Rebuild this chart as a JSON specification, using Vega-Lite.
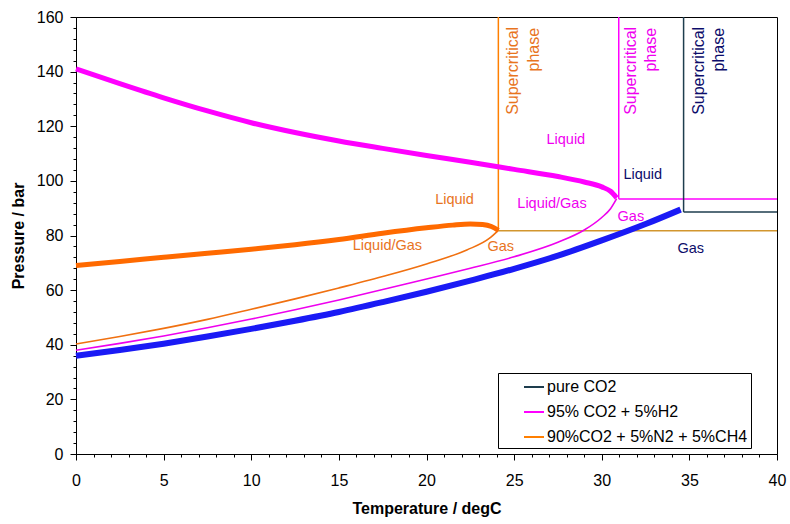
{
  "$schema": "https://vega.github.io/schema/vega-lite/v6.json",
  "width": 701,
  "height": 437,
  "autosize": {"type": "none"},
  "padding": {"left": 76, "top": 17, "right": 13, "bottom": 70},
  "background": "white",
  "config": {
    "font": "Liberation Sans",
    "view": {"stroke": "#000000", "strokeWidth": 1},
    "axis": {
      "grid": false,
      "domainColor": "#000000",
      "tickColor": "#000000",
      "labelColor": "#000000",
      "labelFontSize": 16,
      "labelFont": "Liberation Sans",
      "titleFont": "Liberation Sans",
      "titleFontSize": 16,
      "titleFontWeight": "bold",
      "titleColor": "#000000",
      "labelOverlap": false,
      "labelFlush": false
    }
  },
  "datasets": {
    "curves": [
      {"series": "pure CO2", "branch": "lower", "T": 0, "P": 36.0},
      {"series": "pure CO2", "branch": "lower", "T": 2.5, "P": 38.1},
      {"series": "pure CO2", "branch": "lower", "T": 5, "P": 40.4},
      {"series": "pure CO2", "branch": "lower", "T": 7.5, "P": 43.0},
      {"series": "pure CO2", "branch": "lower", "T": 10, "P": 45.8},
      {"series": "pure CO2", "branch": "lower", "T": 12.5, "P": 48.8},
      {"series": "pure CO2", "branch": "lower", "T": 15, "P": 52.0},
      {"series": "pure CO2", "branch": "lower", "T": 17.5, "P": 55.6},
      {"series": "pure CO2", "branch": "lower", "T": 20, "P": 59.4},
      {"series": "pure CO2", "branch": "lower", "T": 22.5, "P": 63.5},
      {"series": "pure CO2", "branch": "lower", "T": 25, "P": 67.8},
      {"series": "pure CO2", "branch": "lower", "T": 27.5, "P": 72.6},
      {"series": "pure CO2", "branch": "lower", "T": 30, "P": 78.2},
      {"series": "pure CO2", "branch": "lower", "T": 32.5, "P": 84.2},
      {"series": "pure CO2", "branch": "lower", "T": 34.5, "P": 89.5},

      {"series": "95% CO2 + 5%H2", "branch": "lower", "T": 0, "P": 38.0},
      {"series": "95% CO2 + 5%H2", "branch": "lower", "T": 2.5, "P": 40.5},
      {"series": "95% CO2 + 5%H2", "branch": "lower", "T": 5, "P": 43.2},
      {"series": "95% CO2 + 5%H2", "branch": "lower", "T": 7.5, "P": 46.2},
      {"series": "95% CO2 + 5%H2", "branch": "lower", "T": 10, "P": 49.4},
      {"series": "95% CO2 + 5%H2", "branch": "lower", "T": 12.5, "P": 52.8},
      {"series": "95% CO2 + 5%H2", "branch": "lower", "T": 15, "P": 56.4},
      {"series": "95% CO2 + 5%H2", "branch": "lower", "T": 17.5, "P": 60.2},
      {"series": "95% CO2 + 5%H2", "branch": "lower", "T": 20, "P": 64.1},
      {"series": "95% CO2 + 5%H2", "branch": "lower", "T": 22.5, "P": 68.0},
      {"series": "95% CO2 + 5%H2", "branch": "lower", "T": 25, "P": 72.2},
      {"series": "95% CO2 + 5%H2", "branch": "lower", "T": 27.5, "P": 77.5},
      {"series": "95% CO2 + 5%H2", "branch": "lower", "T": 29, "P": 82.0},
      {"series": "95% CO2 + 5%H2", "branch": "lower", "T": 30, "P": 86.6},
      {"series": "95% CO2 + 5%H2", "branch": "lower", "T": 30.5, "P": 89.8},
      {"series": "95% CO2 + 5%H2", "branch": "lower", "T": 30.85, "P": 93.5},

      {"series": "95% CO2 + 5%H2", "branch": "upper", "T": 0, "P": 141.0},
      {"series": "95% CO2 + 5%H2", "branch": "upper", "T": 2.5, "P": 135.6},
      {"series": "95% CO2 + 5%H2", "branch": "upper", "T": 5, "P": 130.4},
      {"series": "95% CO2 + 5%H2", "branch": "upper", "T": 7.5, "P": 125.6},
      {"series": "95% CO2 + 5%H2", "branch": "upper", "T": 10, "P": 121.3},
      {"series": "95% CO2 + 5%H2", "branch": "upper", "T": 12.5, "P": 117.7},
      {"series": "95% CO2 + 5%H2", "branch": "upper", "T": 15, "P": 114.6},
      {"series": "95% CO2 + 5%H2", "branch": "upper", "T": 17.5, "P": 111.9},
      {"series": "95% CO2 + 5%H2", "branch": "upper", "T": 20, "P": 109.3},
      {"series": "95% CO2 + 5%H2", "branch": "upper", "T": 22.5, "P": 106.8},
      {"series": "95% CO2 + 5%H2", "branch": "upper", "T": 25, "P": 104.2},
      {"series": "95% CO2 + 5%H2", "branch": "upper", "T": 27.5, "P": 101.6},
      {"series": "95% CO2 + 5%H2", "branch": "upper", "T": 29, "P": 99.6},
      {"series": "95% CO2 + 5%H2", "branch": "upper", "T": 30, "P": 97.8},
      {"series": "95% CO2 + 5%H2", "branch": "upper", "T": 30.5, "P": 96.2},
      {"series": "95% CO2 + 5%H2", "branch": "upper", "T": 30.85, "P": 93.8},

      {"series": "90%CO2 + 5%N2 + 5%CH4", "branch": "lower", "T": 0, "P": 40.3},
      {"series": "90%CO2 + 5%N2 + 5%CH4", "branch": "lower", "T": 2.5, "P": 43.0},
      {"series": "90%CO2 + 5%N2 + 5%CH4", "branch": "lower", "T": 5, "P": 46.0},
      {"series": "90%CO2 + 5%N2 + 5%CH4", "branch": "lower", "T": 7.5, "P": 49.3},
      {"series": "90%CO2 + 5%N2 + 5%CH4", "branch": "lower", "T": 10, "P": 53.0},
      {"series": "90%CO2 + 5%N2 + 5%CH4", "branch": "lower", "T": 12.5, "P": 56.8},
      {"series": "90%CO2 + 5%N2 + 5%CH4", "branch": "lower", "T": 15, "P": 60.8},
      {"series": "90%CO2 + 5%N2 + 5%CH4", "branch": "lower", "T": 17.5, "P": 65.0},
      {"series": "90%CO2 + 5%N2 + 5%CH4", "branch": "lower", "T": 20, "P": 69.6},
      {"series": "90%CO2 + 5%N2 + 5%CH4", "branch": "lower", "T": 22.3, "P": 74.7},
      {"series": "90%CO2 + 5%N2 + 5%CH4", "branch": "lower", "T": 23.6, "P": 79.0},
      {"series": "90%CO2 + 5%N2 + 5%CH4", "branch": "lower", "T": 24.1, "P": 81.9},

      {"series": "90%CO2 + 5%N2 + 5%CH4", "branch": "upper", "T": 0, "P": 69.0},
      {"series": "90%CO2 + 5%N2 + 5%CH4", "branch": "upper", "T": 2.5, "P": 70.5},
      {"series": "90%CO2 + 5%N2 + 5%CH4", "branch": "upper", "T": 5, "P": 72.0},
      {"series": "90%CO2 + 5%N2 + 5%CH4", "branch": "upper", "T": 7.5, "P": 73.5},
      {"series": "90%CO2 + 5%N2 + 5%CH4", "branch": "upper", "T": 10, "P": 75.0},
      {"series": "90%CO2 + 5%N2 + 5%CH4", "branch": "upper", "T": 12.5, "P": 76.6},
      {"series": "90%CO2 + 5%N2 + 5%CH4", "branch": "upper", "T": 15, "P": 78.5},
      {"series": "90%CO2 + 5%N2 + 5%CH4", "branch": "upper", "T": 17.5, "P": 80.8},
      {"series": "90%CO2 + 5%N2 + 5%CH4", "branch": "upper", "T": 20, "P": 82.8},
      {"series": "90%CO2 + 5%N2 + 5%CH4", "branch": "upper", "T": 21.5, "P": 83.8},
      {"series": "90%CO2 + 5%N2 + 5%CH4", "branch": "upper", "T": 22.5, "P": 84.2},
      {"series": "90%CO2 + 5%N2 + 5%CH4", "branch": "upper", "T": 23.2, "P": 84.0},
      {"series": "90%CO2 + 5%N2 + 5%CH4", "branch": "upper", "T": 23.7, "P": 83.3},
      {"series": "90%CO2 + 5%N2 + 5%CH4", "branch": "upper", "T": 24.1, "P": 81.9}
    ],
    "bounds": [
      {"series": "90%CO2 + 5%N2 + 5%CH4", "kind": "v", "T": 24.1, "T2": 24.1, "P": 81.7, "P2": 160},
      {"series": "90%CO2 + 5%N2 + 5%CH4", "kind": "h", "T": 24.1, "T2": 40, "P": 81.7, "P2": 81.7},
      {"series": "95% CO2 + 5%H2", "kind": "v", "T": 30.97, "T2": 30.97, "P": 93.4, "P2": 160},
      {"series": "95% CO2 + 5%H2", "kind": "h", "T": 30.97, "T2": 40, "P": 93.4, "P2": 93.4},
      {"series": "pure CO2", "kind": "v", "T": 34.67, "T2": 34.67, "P": 88.6, "P2": 160},
      {"series": "pure CO2", "kind": "h", "T": 34.67, "T2": 40, "P": 88.6, "P2": 88.6}
    ],
    "labels": [
      {"label": "Liquid", "series": "90%CO2 + 5%N2 + 5%CH4", "T": 21.6, "P": 93.0},
      {"label": "Liquid/Gas", "series": "90%CO2 + 5%N2 + 5%CH4", "T": 17.77, "P": 76.2},
      {"label": "Gas", "series": "90%CO2 + 5%N2 + 5%CH4", "T": 24.24, "P": 75.8},
      {"label": "Liquid", "series": "95% CO2 + 5%H2", "T": 27.95, "P": 115.0},
      {"label": "Liquid/Gas", "series": "95% CO2 + 5%H2", "T": 27.16, "P": 91.4},
      {"label": "Gas", "series": "95% CO2 + 5%H2", "T": 31.66, "P": 86.8},
      {"label": "Liquid", "series": "pure CO2", "T": 32.34, "P": 102.2},
      {"label": "Gas", "series": "pure CO2", "T": 35.08, "P": 75.2}
    ],
    "vlabels": [
      {"label": "Supercritical", "series": "90%CO2 + 5%N2 + 5%CH4", "T": 24.94, "P": 156.4},
      {"label": "phase", "series": "90%CO2 + 5%N2 + 5%CH4", "T": 26.13, "P": 156.0},
      {"label": "Supercritical", "series": "95% CO2 + 5%H2", "T": 31.67, "P": 156.4},
      {"label": "phase", "series": "95% CO2 + 5%H2", "T": 32.81, "P": 156.0},
      {"label": "Supercritical", "series": "pure CO2", "T": 35.55, "P": 156.4},
      {"label": "phase", "series": "pure CO2", "T": 36.69, "P": 156.0}
    ]
  },
  "encoding": {
    "x": {
      "field": "T", "type": "quantitative",
      "scale": {"domain": [0, 40], "nice": false, "zero": false},
      "axis": {
        "title": "Temperature / degC",
        "values": [0,1,2,3,4,5,6,7,8,9,10,11,12,13,14,15,16,17,18,19,20,21,22,23,24,25,26,27,28,29,30,31,32,33,34,35,36,37,38,39,40],
        "labelExpr": "datum.value % 5 === 0 ? datum.label : ''",
        "labelOverlap": false,
        "labelBound": false,
        "tickSize": {"condition": {"test": "datum.value % 5 === 0", "value": 6}, "value": 3},
        "labelPadding": 12,
        "titlePadding": 12
      }
    },
    "y": {
      "field": "P", "type": "quantitative",
      "scale": {"domain": [0, 160], "nice": false, "zero": true},
      "axis": {
        "title": "Pressure / bar",
        "values": [0,4,8,12,16,20,24,28,32,36,40,44,48,52,56,60,64,68,72,76,80,84,88,92,96,100,104,108,112,116,120,124,128,132,136,140,144,148,152,156,160],
        "labelExpr": "datum.value % 20 === 0 ? datum.label : ''",
        "labelOverlap": false,
        "labelBound": false,
        "tickSize": {"condition": {"test": "datum.value % 20 === 0", "value": 6}, "value": 3},
        "labelPadding": 7,
        "titlePadding": 10
      }
    }
  },
  "resolve": {"scale": {"color": "independent"}},
  "layer": [
    {
      "data": {"name": "bounds"},
      "transform": [{"filter": "datum.kind === 'v' || datum.series !== '90%CO2 + 5%N2 + 5%CH4'"}],
      "mark": {"type": "rule", "strokeWidth": 1.5},
      "encoding": {
        "x2": {"field": "T2"},
        "y2": {"field": "P2"},
        "color": {
          "field": "series", "type": "nominal",
          "scale": {
            "domain": ["pure CO2", "95% CO2 + 5%H2", "90%CO2 + 5%N2 + 5%CH4"],
            "range": ["#1E3D4E", "#FF00FF", "#FF7F00"]
          },
          "legend": {
            "title": null,
            "orient": "none",
            "legendX": 422,
            "legendY": 356,
            "strokeColor": "#000000",
            "fillColor": "#ffffff",
            "padding": 3,
            "symbolOffset": 22,
            "symbolType": "stroke",
            "symbolSize": 400,
            "symbolStrokeWidth": 2,
            "labelFontSize": 16,
            "labelFont": "Liberation Sans",
            "labelColor": "#000000",
            "labelOffset": 2,
            "rowPadding": 6,
            "labelLimit": 400,
            "encode": {
              "symbols": {
                "update": {
                  "stroke": {"signal": "datum.value === 'pure CO2' ? '#10105A' : datum.value === '95% CO2 + 5%H2' ? '#C82EC8' : '#FF6A10'"}
                }
              }
            }
          }
        }
      }
    },
    {
      "data": {"name": "bounds"},
      "transform": [{"filter": "datum.kind === 'h' && datum.series === '90%CO2 + 5%N2 + 5%CH4'"}],
      "mark": {"type": "rule", "strokeWidth": 1.5, "color": "#D2962E"},
      "encoding": {
        "x2": {"field": "T2"}
      }
    },
    {
      "data": {"name": "curves"},
      "transform": [{"filter": "datum.series === '90%CO2 + 5%N2 + 5%CH4' && datum.branch === 'lower'"}],
      "mark": {"type": "line", "interpolate": "monotone", "strokeWidth": 1.6, "color": "#F07010"},
      "encoding": {}
    },
    {
      "data": {"name": "curves"},
      "transform": [{"filter": "datum.series === '95% CO2 + 5%H2' && datum.branch === 'lower'"}],
      "mark": {"type": "line", "interpolate": "monotone", "strokeWidth": 1.6, "color": "#EE00EE"},
      "encoding": {}
    },
    {
      "data": {"name": "curves"},
      "transform": [{"filter": "datum.series === 'pure CO2'"}],
      "mark": {"type": "line", "interpolate": "monotone", "strokeWidth": 6, "color": "#1A1AF5", "strokeCap": "butt"},
      "encoding": {}
    },
    {
      "data": {"name": "curves"},
      "transform": [{"filter": "datum.series === '95% CO2 + 5%H2' && datum.branch === 'upper'"}],
      "mark": {"type": "line", "interpolate": "monotone", "strokeWidth": 5, "color": "#FF00FF", "strokeCap": "butt"},
      "encoding": {}
    },
    {
      "data": {"name": "curves"},
      "transform": [{"filter": "datum.series === '90%CO2 + 5%N2 + 5%CH4' && datum.branch === 'upper'"}],
      "mark": {"type": "line", "interpolate": "monotone", "strokeWidth": 5, "color": "#FF6A00", "strokeCap": "butt"},
      "encoding": {}
    },
    {
      "data": {"name": "labels"},
      "mark": {"type": "text", "fontSize": 14.5, "align": "center", "baseline": "middle", "font": "Liberation Sans"},
      "encoding": {
        "text": {"field": "label"},
        "color": {
          "field": "series", "type": "nominal",
          "scale": {
            "domain": ["pure CO2", "95% CO2 + 5%H2", "90%CO2 + 5%N2 + 5%CH4"],
            "range": ["#0C0C6A", "#F000F0", "#E8741E"]
          },
          "legend": null
        }
      }
    },
    {
      "data": {"name": "vlabels"},
      "mark": {"type": "text", "fontSize": 16, "angle": 270, "align": "right", "baseline": "middle", "font": "Liberation Sans"},
      "encoding": {
        "text": {"field": "label"},
        "color": {
          "field": "series", "type": "nominal",
          "scale": {
            "domain": ["pure CO2", "95% CO2 + 5%H2", "90%CO2 + 5%N2 + 5%CH4"],
            "range": ["#0C0C6A", "#F000F0", "#E8741E"]
          },
          "legend": null
        }
      }
    }
  ]
}
